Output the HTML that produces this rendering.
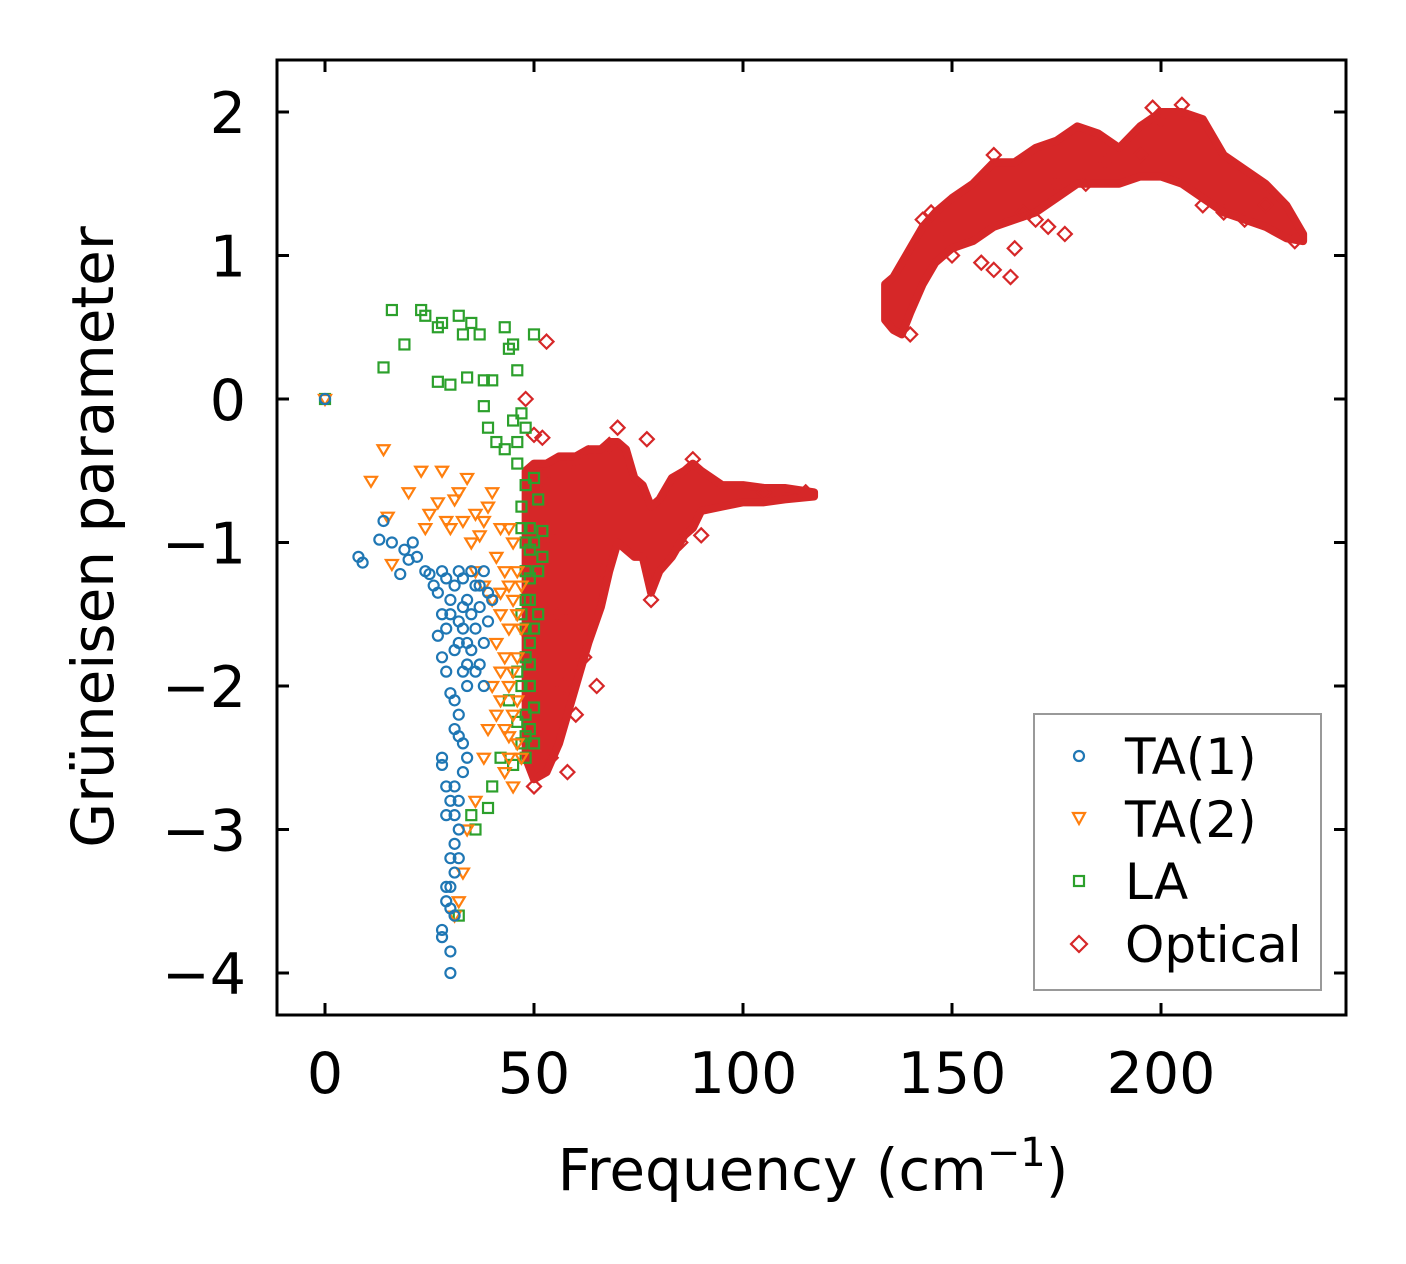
<!DOCTYPE html>
<html><head><meta charset="utf-8"><style>
html,body{margin:0;padding:0;background:#fff;}
svg{display:block;font-family:"DejaVu Sans","Liberation Sans",sans-serif;}
</style></head><body>
<svg id="chart" width="1406" height="1264" viewBox="0 0 1406 1264">
<rect width="1406" height="1264" fill="#fff"/>
<g id="marks"></g>
<rect x="277" y="60" width="1069" height="955" fill="none" stroke="#000" stroke-width="3"/>
<g id="axes"></g>
<text x="813" y="1190" font-size="58" text-anchor="middle">Frequency (cm<tspan font-size="40" dy="-24">−1</tspan><tspan dy="24">)</tspan></text>
<text transform="translate(113,537) rotate(-90)" font-size="58" text-anchor="middle">Grüneisen parameter</text>
<g>
<rect x="1034" y="714" width="287" height="276" fill="#fff" stroke="#999" stroke-width="2"/>
<circle cx="1079" cy="756" r="5" fill="none" stroke="#1f77b4" stroke-width="2.2"/>
<text x="1125" y="774" font-size="50">TA(1)</text>
<path d="M1073,813 L1085,813 L1079,824 Z" fill="none" stroke="#ff7f0e" stroke-width="2.2"/>
<text x="1125" y="837" font-size="50">TA(2)</text>
<rect x="1074" y="876" width="10" height="10" fill="none" stroke="#2ca02c" stroke-width="2.2"/>
<text x="1125" y="899" font-size="50">LA</text>
<path d="M1079,936 L1087,944 L1079,952 L1071,944 Z" fill="none" stroke="#d62728" stroke-width="2.2"/>
<text x="1125" y="962" font-size="50">Optical</text>
</g>
</svg>
<script>
const xTicks=[0,50,100,150,200];
const yTicks=[2,1,0,-1,-2,-3,-4];
const ta1=[0,0,8,-1.1,9,-1.14,13,-0.98,14,-0.85,16,-1.0,18,-1.22,19,-1.05,20,-1.12,21,-1.0,22,-1.1,24,-1.2,25,-1.22,26,-1.3,27,-1.35,28,-1.2,28,-1.5,29,-1.6,27,-1.65,28,-1.8,29,-1.9,30,-1.4,31,-1.3,32,-1.2,33,-1.25,34,-1.4,35,-1.5,36,-1.6,37,-1.45,38,-1.7,36,-1.9,34,-1.85,32,-1.7,31,-2.1,32,-2.2,33,-2.4,34,-2.5,33,-2.6,32,-2.8,31,-2.9,30,-2.8,31,-3.1,32,-3.2,31,-3.3,30,-3.4,29,-3.4,30,-3.55,31,-3.6,28,-3.7,28,-3.75,30,-3.85,30,-4.0,28,-2.5,28,-2.55,29,-2.7,29,-2.9,33,-1.6,35,-1.75,37,-1.3,38,-1.2,39,-1.35,36,-1.3,35,-1.2,33,-1.9,34,-2.0,30,-2.05,31,-2.3,32,-2.35,38,-2.0,37,-1.85,39,-1.55,40,-1.4,34,-1.7,33,-1.45,32,-1.55,29,-1.25,30,-1.5,31,-1.75,32,-3.0,31,-2.7,30,-3.2,29,-3.5];
const ta2=[0,0,11,-0.57,14,-0.35,15,-0.82,16,-1.15,20,-0.65,23,-0.5,24,-0.9,25,-0.8,27,-0.72,28,-0.5,29,-0.85,30,-0.9,31,-0.7,32,-0.65,33,-0.85,34,-0.55,35,-1.0,36,-0.8,37,-0.95,38,-0.85,39,-0.75,40,-0.65,41,-1.1,42,-0.9,43,-1.2,44,-0.9,45,-1.4,46,-1.2,40,-1.4,42,-1.5,44,-1.6,46,-1.8,42,-1.9,40,-2.0,41,-2.2,43,-2.3,44,-2.5,45,-2.7,46,-2.4,43,-2.6,42,-2.1,39,-2.3,38,-2.5,36,-2.8,34,-3.0,33,-3.3,32,-3.5,31,-3.6,44,-2.0,46,-2.1,45,-1.0,47,-1.3,47,-1.6,36,-1.2,38,-1.3,41,-1.7,43,-1.8,45,-2.2,47,-2.5,44,-1.3,46,-1.5,42,-1.35,45,-1.9,44,-2.35];
const la=[0,0,14,0.22,16,0.62,19,0.38,23,0.62,24,0.58,27,0.5,27,0.12,28,0.53,30,0.1,32,0.58,33,0.45,34,0.15,35,0.53,37,0.45,38,0.13,38,-0.05,40,0.13,43,0.5,44,0.35,45,0.38,46,0.2,50,0.45,39,-0.2,41,-0.3,43,-0.35,45,-0.15,46,-0.3,47,-0.1,48,-0.2,46,-0.45,48,-0.6,47,-0.75,49,-0.9,50,-1.0,52,-0.92,51,-1.2,49,-1.4,50,-1.6,48,-1.8,49,-2.0,48,-2.2,47,-2.4,48,-2.5,45,-2.55,42,-2.5,40,-2.7,39,-2.85,36,-3.0,35,-2.9,32,-3.6,46,-1.9,47,-1.5,48,-1.2,49,-1.7,48,-1.4,49,-2.3,44,-2.1,46,-2.25,51,-1.5,52,-1.1,50,-2.4,49,-1.05,47,-0.9,50,-0.55,51,-0.7,48,-1.6,49,-1.85,50,-2.15,48,-1.0,49,-1.25,47,-2.0,48,-2.35];
const optical=[53,0.4,48,0,52,-0.27,50,-0.25,70,-0.2,77,-0.28,88,-0.42,90,-0.95,78,-1.4,65,-2.0,58,-2.6,60,-2.2,62,-1.8,50,-2.7,140,0.45,145,1.3,148,1.2,150,1.0,157,0.95,160,0.9,164,0.85,165,1.05,167,1.3,170,1.25,173,1.2,177,1.15,175,1.5,182,1.5,187,1.65,195,1.7,198,2.03,205,2.05,210,1.35,215,1.3,220,1.25,225,1.35,232,1.1,105,-0.65,115,-0.65,60,-0.5,55,-1.0,56,-1.5,57,-2.0,66,-1.2,85,-1.0,52,-0.55,54,-2.5,59,-0.45,63,-0.38,68,-0.32,160,1.7,143,1.25,200,1.95];
const denseLowX=[48,50,53,56,60,63,66,68,70,72,74,76,78,80,83,86,88,90,95,100,105,110,117];
const denseLowHigh=[-0.5,-0.45,-0.45,-0.4,-0.4,-0.35,-0.35,-0.3,-0.3,-0.35,-0.55,-0.6,-0.75,-0.7,-0.55,-0.5,-0.45,-0.5,-0.6,-0.6,-0.62,-0.62,-0.65];
const denseLowLow=[-2.5,-2.65,-2.6,-2.4,-2.0,-1.7,-1.45,-1.2,-1.0,-1.05,-1.1,-1.1,-1.35,-1.2,-1.1,-0.95,-0.9,-0.78,-0.75,-0.72,-0.72,-0.7,-0.68];
const denseHighX=[134,136,138,140,143,146,150,155,160,165,170,175,180,185,190,195,200,205,210,215,220,225,230,234];
const denseHighHigh=[0.8,0.85,0.95,1.05,1.2,1.3,1.4,1.5,1.65,1.65,1.75,1.8,1.9,1.85,1.75,1.9,2.0,2.0,1.95,1.7,1.6,1.5,1.35,1.15];
const denseHighLow=[0.55,0.48,0.45,0.6,0.8,0.95,1.05,1.1,1.2,1.25,1.3,1.4,1.5,1.5,1.5,1.55,1.55,1.5,1.4,1.3,1.25,1.2,1.12,1.1];

const NS='http://www.w3.org/2000/svg';
const X=v=>325+v*4.18;
const Y=v=>399-v*143.5;
const marks=document.getElementById('marks');
const axes=document.getElementById('axes');
function mk(tag,parent){const e=document.createElementNS(NS,tag);parent.appendChild(e);return e;}

xTicks.forEach(t=>{
  [[1015,1003],[60,72]].forEach(([a,b])=>{
    const l=mk('line',axes);l.setAttribute('x1',X(t));l.setAttribute('x2',X(t));l.setAttribute('y1',a);l.setAttribute('y2',b);l.setAttribute('stroke','#000');l.setAttribute('stroke-width','3');
    
    
  });
  const tx=mk('text',axes);tx.setAttribute('x',X(t));tx.setAttribute('y',1093);tx.setAttribute('font-size','57');tx.setAttribute('text-anchor','middle');tx.textContent=String(t);
  
  
});
yTicks.forEach(t=>{
  [[277,289],[1346,1334]].forEach(([a,b])=>{
    const l=mk('line',axes);l.setAttribute('y1',Y(t));l.setAttribute('y2',Y(t));l.setAttribute('x1',a);l.setAttribute('x2',b);l.setAttribute('stroke','#000');l.setAttribute('stroke-width','3');
    
    
  });
  const tx=mk('text',axes);tx.setAttribute('x',246);tx.setAttribute('y',Y(t)+21);tx.setAttribute('font-size','57');tx.setAttribute('text-anchor','end');tx.textContent=(t<0?'−':'')+Math.abs(t);
  
  
});

function band(xs,hi,lo,name){
  let d='M'+xs.map((x,i)=>X(x)+','+Y(hi[i])).join(' L');
  for(let i=xs.length-1;i>=0;i--) d+=' L'+X(xs[i])+','+Y(lo[i]);
  d+=' Z';
  const p=mk('path',marks);p.setAttribute('d',d);p.setAttribute('fill','#d62728');p.setAttribute('stroke','#d62728');p.setAttribute('stroke-width','8');p.setAttribute('stroke-linejoin','round');
  
  
}
band(denseLowX,denseLowHigh,denseLowLow,'optical-dense-region-low');
band(denseHighX,denseHighHigh,denseHighLow,'optical-dense-region-high');

function series(arr,kind,color,name){
  const g=mk('g',marks);
  
  
  for(let i=0;i<arr.length;i+=2){
    const x=X(arr[i]),y=Y(arr[i+1]);let e;
    if(kind==='circle'){e=mk('circle',g);e.setAttribute('cx',x);e.setAttribute('cy',y);e.setAttribute('r',5);}
    else if(kind==='tri'){e=mk('path',g);e.setAttribute('d',`M${x-6},${y-4} L${x+6},${y-4} L${x},${y+6} Z`);}
    else if(kind==='square'){e=mk('rect',g);e.setAttribute('x',x-5);e.setAttribute('y',y-5);e.setAttribute('width',10);e.setAttribute('height',10);}
    else {e=mk('path',g);e.setAttribute('d',`M${x},${y-7} L${x+7},${y} L${x},${y+7} L${x-7},${y} Z`);}
    e.setAttribute('fill','none');e.setAttribute('stroke',color);e.setAttribute('stroke-width','2.2');
    
    
  }
}
series(optical,'diamond','#d62728','optical');
series(la,'square','#2ca02c','la');
series(ta2,'tri','#ff7f0e','ta2');
series(ta1,'circle','#1f77b4','ta1');
</script>
</body></html>
